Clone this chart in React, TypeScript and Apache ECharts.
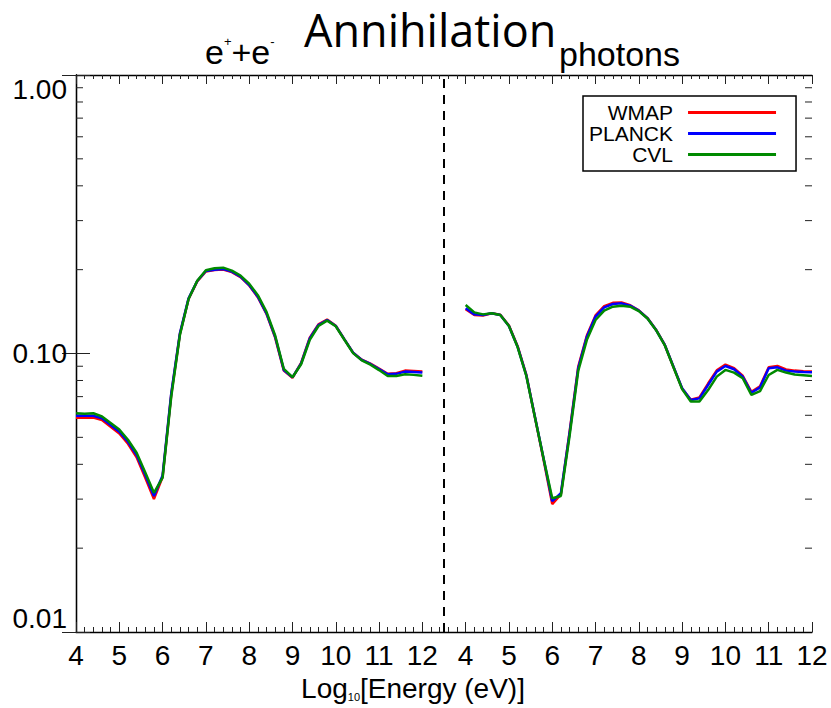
import React, { useEffect, useRef } from "react";
import * as echarts from "echarts";

// Energy grid (log10 eV) shared by both panels
const ENERGY = [
  4.0, 4.2, 4.4, 4.6, 4.8, 5.0, 5.2, 5.4, 5.6, 5.8, 6.0, 6.2, 6.4, 6.6, 6.8, 7.0,
  7.2, 7.4, 7.6, 7.8, 8.0, 8.2, 8.4, 8.6, 8.8, 9.0, 9.2, 9.4, 9.6, 9.8, 10.0,
  10.2, 10.4, 10.6, 10.8, 11.0, 11.2, 11.4, 11.6, 11.8, 12.0,
];

// Left panel: e+ + e-
const WMAP_EE = [
  0.0588, 0.0588, 0.0589, 0.0577, 0.0546, 0.0516, 0.0474, 0.0424, 0.0358, 0.0300,
  0.036, 0.0712, 0.1175, 0.157, 0.1815, 0.197, 0.1995, 0.2002, 0.196, 0.188,
  0.1755, 0.1592, 0.1388, 0.114, 0.0868, 0.0818, 0.0925, 0.114, 0.1272, 0.1325,
  0.1258, 0.1124, 0.1007, 0.095, 0.092, 0.0882, 0.0846, 0.085, 0.0868, 0.0866, 0.0862,
];
const PLANCK_EE = [
  0.0598, 0.0598, 0.0598, 0.0585, 0.0554, 0.0524, 0.0482, 0.0432, 0.0366, 0.0308,
  0.0365, 0.0719, 0.1181, 0.1578, 0.1821, 0.1978, 0.2, 0.2011, 0.1967, 0.1888,
  0.1762, 0.16, 0.1394, 0.1149, 0.0873, 0.0821, 0.0922, 0.1133, 0.1266, 0.1319,
  0.1256, 0.1124, 0.1007, 0.0948, 0.0917, 0.088, 0.0842, 0.0845, 0.0861, 0.0858, 0.0854,
];
const CVL_EE = [
  0.061, 0.0608, 0.061, 0.0594, 0.0563, 0.0533, 0.049, 0.044, 0.0374, 0.0316,
  0.0358, 0.07, 0.1165, 0.157, 0.1825, 0.199, 0.2025, 0.2033, 0.1985, 0.1905,
  0.178, 0.162, 0.141, 0.116, 0.088, 0.0822, 0.0915, 0.112, 0.1255, 0.1312,
  0.1252, 0.112, 0.1003, 0.0945, 0.0912, 0.0872, 0.083, 0.083, 0.0842, 0.0838, 0.0832,
];

// Right panel: photons
const WMAP_PH = [
  0.1441, 0.1375, 0.137, 0.1394, 0.1378, 0.126, 0.1062, 0.084, 0.059, 0.0415,
  0.0288, 0.0312, 0.0522, 0.0895, 0.116, 0.137, 0.148, 0.152, 0.1525, 0.149,
  0.1428, 0.134, 0.1215, 0.1073, 0.0895, 0.0748, 0.0682, 0.0695, 0.078, 0.087,
  0.0912, 0.0886, 0.0832, 0.0728, 0.0762, 0.0893, 0.0902, 0.0876, 0.0868, 0.0864, 0.0862,
];
const PLANCK_PH = [
  0.1453, 0.1382, 0.1375, 0.1394, 0.1375, 0.1256, 0.1058, 0.0837, 0.0593, 0.042,
  0.0295, 0.0315, 0.0517, 0.0885, 0.1149, 0.1357, 0.1465, 0.1506, 0.1514, 0.1485,
  0.1425, 0.1338, 0.1214, 0.1073, 0.0897, 0.075, 0.0681, 0.069, 0.0771, 0.0861,
  0.0902, 0.0878, 0.0826, 0.0723, 0.0756, 0.0885, 0.0892, 0.0868, 0.0861, 0.0858, 0.0856,
];
const CVL_PH = [
  0.1493, 0.1405, 0.1382, 0.1394, 0.1375, 0.1256, 0.1055, 0.0832, 0.059, 0.042,
  0.0302, 0.0308, 0.0505, 0.0865, 0.112, 0.1319, 0.1425, 0.1473, 0.1485, 0.1473,
  0.142, 0.1335, 0.1212, 0.107, 0.0892, 0.0745, 0.0672, 0.0672, 0.0739, 0.0826,
  0.0873, 0.0854, 0.0815, 0.071, 0.0733, 0.0837, 0.0873, 0.0854, 0.084, 0.0835, 0.083,
];

const X_TICK_LABELS = [
  "4", "5", "6", "7", "8", "9", "10", "11", "12",
  "4", "5", "6", "7", "8", "9", "10", "11", "12",
];
const Y_MINOR_TICKS = [
  0.02, 0.03, 0.04, 0.05, 0.06, 0.07, 0.08, 0.09,
  0.2, 0.3, 0.4, 0.5, 0.6, 0.7, 0.8, 0.9,
];

const SERIES_NAMES = ["WMAP", "PLANCK", "CVL"];
const SERIES_COLORS = ["#ff0000", "#0000ff", "#008a00"];
const LEFT_PANEL = [WMAP_EE, PLANCK_EE, CVL_EE];
const RIGHT_PANEL = [WMAP_PH, PLANCK_PH, CVL_PH];

// axis position of E=4 in each panel
const LEFT_START = 0;
const RIGHT_START = 9;
const DIVIDER = 8.5;

const FONT = "'Liberation Sans', Arial, Helvetica, sans-serif";

export default function App() {
  const ref = useRef<HTMLDivElement>(null);

  useEffect(() => {
    if (!ref.current) return;
    const chart = echarts.init(ref.current, undefined, { renderer: "svg" });

    const lineSeries: any[] = [];
    [LEFT_PANEL, RIGHT_PANEL].forEach((panel, p) => {
      const start = p === 0 ? LEFT_START : RIGHT_START;
      panel.forEach((vals, i) => {
        lineSeries.push({
          type: "line",
          name: SERIES_NAMES[i],
          xAxisIndex: 0,
          yAxisIndex: 0,
          data: ENERGY.map((e, k) => [start + (e - 4), vals[k]]),
          showSymbol: false,
          symbol: "none",
          color: SERIES_COLORS[i],
          lineStyle: { color: SERIES_COLORS[i], width: 2.5 },
          z: 3 + i,
          silent: true,
        });
      });
    });
    lineSeries.sort((a, b) => a.z - b.z);

    const axisLineStyle = { color: "#000", width: 1.3 };
    const tickStyle = { color: "#222", width: 1 };

    chart.setOption({
      animation: false,
      backgroundColor: "#fff",
      textStyle: { fontFamily: FONT, color: "#000" },
      title: [
        {
          text: "Annihilation",
          left: 304,
          top: 7,
          padding: 0,
          textStyle: {
            fontFamily: "'Open Sans', sans-serif",
            fontSize: 45,
            fontWeight: "normal",
            color: "#000",
          },
        },
        {
          text: "{b|e}{s|+}{b|+e}{s|-}",
          left: 205,
          top: 35,
          padding: 0,
          textStyle: {
            fontWeight: "normal",
            rich: {
              b: { fontFamily: FONT, fontSize: 34, fontWeight: "normal", color: "#000" },
              s: {
                fontFamily: FONT,
                fontSize: 13,
                fontWeight: "normal",
                color: "#000",
                verticalAlign: "top",
              },
            },
          },
        },
        {
          text: "photons",
          left: 559,
          top: 37,
          padding: 0,
          textStyle: {
            fontFamily: FONT,
            fontSize: 34,
            fontWeight: "normal",
            color: "#000",
          },
        },
      ],
      legend: {
        data: SERIES_NAMES,
        orient: "vertical",
        align: "right",
        left: 583,
        top: 96,
        icon: "rect",
        itemWidth: 88,
        itemHeight: 3,
        itemGap: 0,
        padding: [6, 20, 6, 6],
        borderColor: "#000",
        borderWidth: 1.5,
        selectedMode: false,
        textStyle: {
          fontFamily: FONT,
          fontSize: 21,
          color: "#000",
          padding: [0, 10, 0, 0],
        },
      },
      grid: { left: 76, right: 19, top: 75, bottom: 76 },
      xAxis: [
        {
          type: "value",
          position: "bottom",
          min: 0,
          max: 17,
          interval: 1,
          splitLine: { show: false },
          axisLine: { lineStyle: axisLineStyle },
          axisTick: { inside: true, length: 10, lineStyle: tickStyle },
          minorTick: {
            show: true,
            splitNumber: 5,
            length: 5,
            lineStyle: tickStyle,
          },
          minorSplitLine: { show: false },
          axisLabel: {
            fontFamily: FONT,
            fontSize: 28,
            color: "#000",
            margin: 9,
            formatter: (v: number) => X_TICK_LABELS[Math.round(v)] ?? "",
          },
          name: "{a|Log}{s|10}{a|[Energy (eV)]}",
          nameLocation: "middle",
          nameGap: 42,
          nameTextStyle: {
            padding: [0, 62, 0, 0],
            rich: {
              a: { fontFamily: FONT, fontSize: 28, color: "#000" },
              s: {
                fontFamily: FONT,
                fontSize: 11,
                color: "#000",
                verticalAlign: "bottom",
              },
            },
          },
        },
        {
          type: "value",
          position: "top",
          min: 0,
          max: 17,
          interval: 1,
          splitLine: { show: false },
          axisLine: { lineStyle: axisLineStyle },
          axisTick: { inside: true, length: 9, lineStyle: tickStyle },
          minorTick: {
            show: true,
            splitNumber: 5,
            length: 4,
            lineStyle: tickStyle,
          },
          axisLabel: { show: false },
        },
      ],
      yAxis: [
        {
          type: "log",
          logBase: 10,
          min: 0.01,
          max: 1,
          position: "left",
          splitLine: { show: false },
          axisLine: { show: true, lineStyle: axisLineStyle },
          axisTick: { inside: true, length: 14, lineStyle: tickStyle },
          axisLabel: {
            fontFamily: FONT,
            fontSize: 28,
            color: "#000",
            margin: 9,
            verticalAlignMinLabel: "bottom",
            verticalAlignMaxLabel: "top",
            formatter: (v: number) => v.toFixed(2),
          },
        },
        {
          type: "log",
          logBase: 10,
          min: 0.01,
          max: 1,
          position: "right",
          splitLine: { show: false },
          axisLine: { show: true, lineStyle: axisLineStyle },
          axisTick: { inside: true, length: 14, lineStyle: tickStyle },
          axisLabel: { show: false },
        },
      ],
      series: [
        ...lineSeries,
        {
          type: "custom",
          name: "minorY",
          xAxisIndex: 0,
          yAxisIndex: 0,
          silent: true,
          clip: false,
          data: Y_MINOR_TICKS.map((v) => [0, v]),
          encode: { x: 0, y: 1 },
          renderItem: (_params: any, api: any) => {
            const v = api.value(1);
            const pl = api.coord([0, v]);
            const pr = api.coord([17, v]);
            return {
              type: "group",
              children: [
                {
                  type: "line",
                  shape: { x1: pl[0], y1: pl[1], x2: pl[0] + 7, y2: pl[1] },
                  style: { stroke: "#222", lineWidth: 1 },
                },
                {
                  type: "line",
                  shape: { x1: pr[0] - 7, y1: pr[1], x2: pr[0], y2: pr[1] },
                  style: { stroke: "#222", lineWidth: 1 },
                },
              ],
            };
          },
        },
        {
          type: "line",
          name: "divider",
          data: [],
          markLine: {
            silent: true,
            symbol: ["none", "none"],
            label: { show: false },
            lineStyle: { color: "#000", type: [9, 7], width: 2 },
            data: [{ xAxis: DIVIDER }],
          },
        },
      ],
    });

    return () => chart.dispose();
  }, []);

  return (
    <div
      ref={ref}
      style={{
        position: "fixed",
        left: 0,
        top: 0,
        width: 831,
        height: 708,
        background: "#fff",
      }}
    />
  );
}
